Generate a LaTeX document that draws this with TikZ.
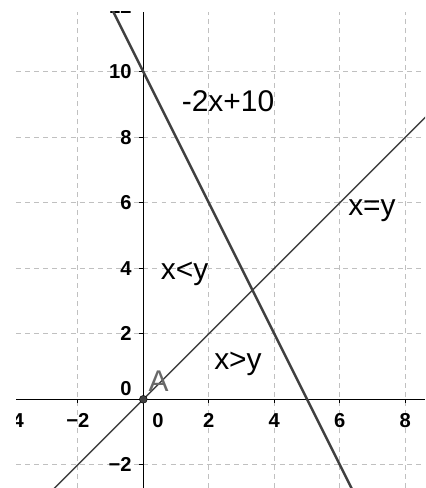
\documentclass[tikz,border=0pt]{standalone}
\usepackage{fontspec}
\setmainfont{Liberation Sans}
\usepackage{xcolor}
\usetikzlibrary{calc}
\definecolor{LineGray}{RGB}{64,64,64}
\definecolor{GridGray}{RGB}{192,192,192}
\definecolor{PointGray}{RGB}{105,105,105}
\tikzset{
	gridline/.style={GridGray, line width=0.8pt, dash pattern=on 4.3pt off 3.6pt},
	axisline/.style={black, line width=1pt},
	ticklabel/.style={inner sep=0pt, font=\fontsize{17.5}{18}\selectfont\bfseries},
	lbl/.style={inner sep=0pt, anchor=base west, font=\fontsize{26}{28}\selectfont}
}

\begin{document}
\begin{tikzpicture}
		\useasboundingbox (-4.376,-2.708) rectangle (8.601,12.192);
		\clip (-3.887,-2.708) rectangle (8.601,11.826);
		% 网格
		\foreach \x in {-4,-2,2,4,6,8}
			\draw[gridline] (\x,-2.708) -- (\x,11.826);
		\foreach \y in {-2,2,4,...,10}
			\draw[gridline] (-3.887,\y) -- (8.601,\y);
		% 坐标轴
		\draw[axisline] (-3.887,0) -- (8.601,0);
		\draw[axisline] (0,-2.708) -- (0,11.826);
		\foreach \x/\t in {-4/−4,-2/−2,2/2,4/4,6/6,8/8} {
			\draw[axisline] (\x,0) -- (\x,-0.12);
			\node[ticklabel, anchor=north] (tx\x) at (\x,-0.43) {\t};
		}
		\node[ticklabel, anchor=north] (tx0) at (0.45,-0.43) {0};
		\foreach \y/\t in {-2/−2,2/2,4/4,6/6,8/8,10/10,12/12} {
			\draw[axisline] (0,\y) -- (-0.12,\y);
			\node[ticklabel, anchor=east] (ty\y) at (-0.35,\y) {\t};
		}
		\node[ticklabel, anchor=south east] (ty0) at (-0.35,0.1) {0};
		% 直线
		\draw[LineGray, line width=2.2pt, domain=-1.2:6.6, variable=\x] plot ({\x}, {-2*\x+10});
		\draw[LineGray, line width=1.1pt, domain=-3:8.8, variable=\x] plot ({\x}, {\x});
		% 点 A
		\node[circle, fill=LineGray, draw=black, line width=0.4pt, inner sep=0pt, minimum size=0.24cm] (A) at (0,0) {};
		\node[lbl, PointGray] (labA) at (0.153,0.232) {A};
		% 标签
		\node[lbl] (eqline) at (1.17,8.78) {-2x+10};
		\node[lbl] (xeqy) at (6.25,5.627) {x=y};
		\node[lbl] (xlty) at (0.531,3.664) {x<y};
		\node[lbl] (xgty) at (2.159,0.925) {x>y};
	\end{tikzpicture}
\end{document}
